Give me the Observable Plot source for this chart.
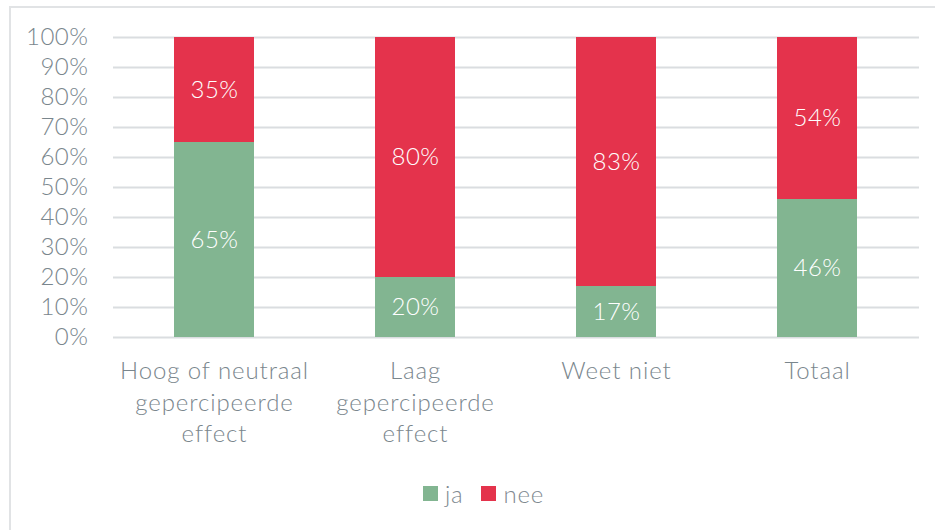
<!DOCTYPE html>
<html>
<head>
<meta charset="utf-8">
<script src="https://cdn.jsdelivr.net/npm/d3@7"></script>
<script src="https://cdn.jsdelivr.net/npm/@observablehq/plot@0.6"></script>
<style>
  html, body { margin: 0; padding: 0; background: #fff; }
  #wrap { position: relative; width: 935px; height: 530px; overflow: hidden; font-family: Lato, "Open Sans", sans-serif; font-weight: 300; }
  #frame { position: absolute; left: 9px; top: 6px; width: 1000px; height: 600px; border-top: 2px solid #e1e3e5; border-left: 2px solid #e1e3e5; }
  #chart { position: absolute; left: 0; top: 0; }
  #chart svg text { font-weight: 300; letter-spacing: 0.5px; }
  #chart svg g[aria-label="x-axis tick label"] text { letter-spacing: 0.9px; }
  #legend { position: absolute; left: 16px; top: 479px; width: 935px; display: flex; justify-content: center; align-items: center; font-size: 24px; letter-spacing: 0.8px; color: #7f8a91; }
  .item { display: flex; align-items: center; margin: 0 9px; }
  .sw { width: 15px; height: 15px; margin-right: 7px; }
</style>
</head>
<body>
<div id="wrap">
  <div id="frame"></div>
  <div id="chart"></div>
  <div id="legend"></div>
</div>
<script>
const categories = ["Hoog of neutraal\ngepercipeerde\neffect", "Laag\ngepercipeerde\neffect", "Weet niet", "Totaal"];
const series = ["ja", "nee"];
const jaValues = [65, 20, 17, 46];
const neeValues = [35, 80, 83, 54];
const yTicks = [0, 10, 20, 30, 40, 50, 60, 70, 80, 90, 100];
const colors = ["#82b591", "#e4334c"];

const data = [];
categories.forEach((c, i) => {
  data.push({cat: c, series: "ja", value: jaValues[i]});
  data.push({cat: c, series: "nee", value: neeValues[i]});
});

const textColor = "#7a868d";

const chart = Plot.plot({
  width: 935,
  height: 460,
  marginTop: 37,
  marginBottom: 123,
  marginLeft: 113,
  marginRight: 16,
  style: {fontFamily: "Lato, 'Open Sans', sans-serif", color: textColor, background: "transparent"},
  x: {domain: categories, paddingInner: 0.6, paddingOuter: 0.3, label: null},
  y: {domain: [0, 100], label: null},
  color: {domain: series, range: colors},
  marks: [
    Plot.gridY(yTicks, {stroke: "#dadde0", strokeOpacity: 1, strokeWidth: 2}),
    Plot.barY(data, {x: "cat", y: "value", fill: "series"}),
    Plot.text(data, Plot.stackY({x: "cat", y: "value", z: "series", text: d => d.value + "%", fill: "white", fontSize: 24})),
    Plot.axisY(yTicks, {tickSize: 0, tickPadding: 25, tickFormat: d => d + "%", fontSize: 24, label: null}),
    Plot.axisX({tickSize: 0, tickPadding: 19, fontSize: 24, lineHeight: 1.32, label: null})
  ]
});
document.getElementById("chart").appendChild(chart);

const legend = document.getElementById("legend");
series.forEach((s, i) => {
  const item = document.createElement("div");
  item.className = "item";
  const sw = document.createElement("div");
  sw.className = "sw";
  sw.style.background = colors[i];
  const lab = document.createElement("span");
  lab.textContent = s;
  item.appendChild(sw);
  item.appendChild(lab);
  legend.appendChild(item);
});
</script>
</body>
</html>
